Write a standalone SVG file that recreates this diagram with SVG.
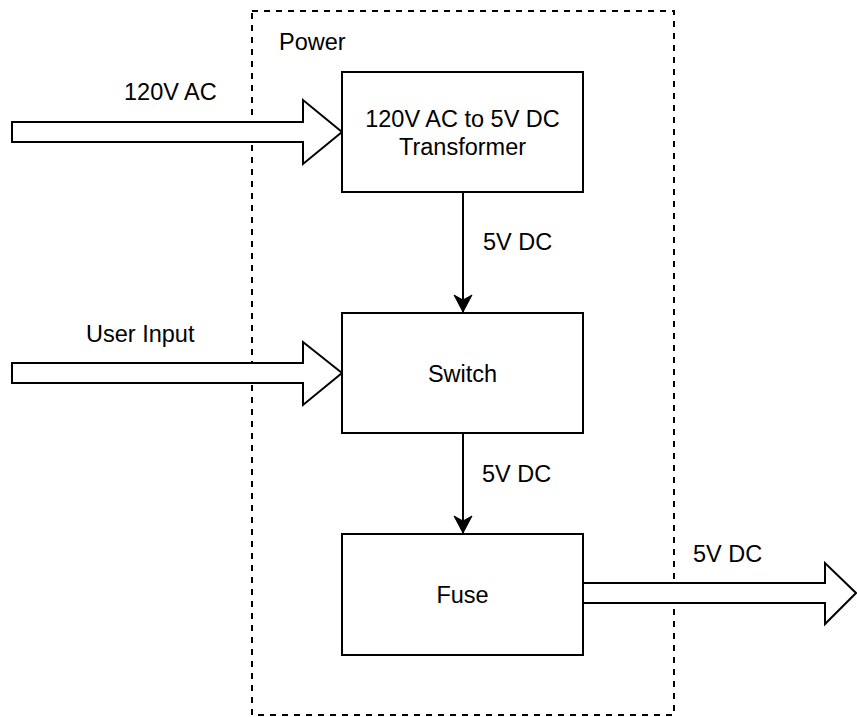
<svg xmlns="http://www.w3.org/2000/svg" width="857" height="717" viewBox="0 0 857 717">
<style>
  .box { fill: #ffffff; stroke: #000000; stroke-width: 2; }
  .bigarrow { fill: #ffffff; stroke: #000000; stroke-width: 2; stroke-linejoin: miter; }
  .edge { fill: none; stroke: #000000; stroke-width: 2; }
  .container { fill: none; stroke: #000000; stroke-width: 2; stroke-dasharray: 6 6; }
  text { font-family: "Liberation Sans", Arial, Helvetica, sans-serif; font-size: 23.5px; fill: #000000; }
  .c { text-anchor: middle; }
</style>
<defs>
  <marker id="arrow" markerUnits="userSpaceOnUse" markerWidth="20" markerHeight="20" viewBox="0 0 20 20" refX="18" refY="10" orient="auto">
    <path d="M1,1 L18,10 L1,19 L6,10 Z" fill="#000000" stroke="#000000" stroke-width="1"/>
  </marker>
</defs>
<rect width="857" height="717" fill="#ffffff"/>

<g id="power-container">
  <rect class="container" x="252" y="11" width="422" height="704"/>
  <text x="279" y="50">Power</text>
</g>

<g id="connectors">
  <g id="in-ac">
    <path class="bigarrow" d="M12,122 L303,122 L303,100 L342,132 L303,164 L303,142 L12,142 Z"/>
    <text x="124" y="100">120V AC</text>
  </g>
  <g id="in-user">
    <path class="bigarrow" d="M12,363 L303,363 L303,342 L342,373 L303,405 L303,383 L12,383 Z"/>
    <text x="86" y="342">User Input</text>
  </g>
  <g id="out-dc">
    <path class="bigarrow" d="M583,583 L825,583 L825,563 L856,593 L825,624 L825,603 L583,603 Z"/>
    <text x="693" y="562">5V DC</text>
  </g>
  <g id="e1">
    <path class="edge" d="M463,192 L463,312" marker-end="url(#arrow)"/>
    <text x="483" y="250">5V DC</text>
  </g>
  <g id="e2">
    <path class="edge" d="M463,433 L463,533" marker-end="url(#arrow)"/>
    <text x="482" y="482">5V DC</text>
  </g>
</g>

<g id="transformer">
  <rect class="box" x="342" y="72" width="241" height="120"/>
  <text class="c" x="462.5" y="127">120V AC to 5V DC</text>
  <text class="c" x="462.5" y="155">Transformer</text>
</g>

<g id="switch">
  <rect class="box" x="342" y="313" width="241" height="120"/>
  <text class="c" x="462.5" y="382">Switch</text>
</g>

<g id="fuse">
  <rect class="box" x="342" y="534" width="241" height="121"/>
  <text class="c" x="462.5" y="603">Fuse</text>
</g>
</svg>
